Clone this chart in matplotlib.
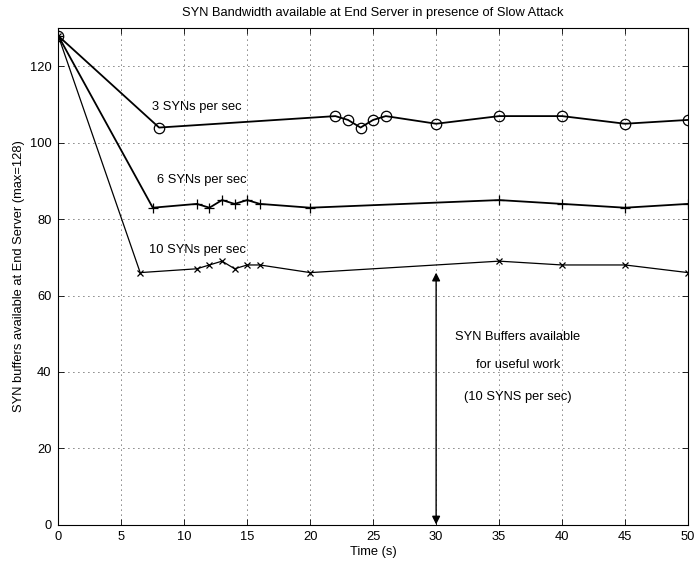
import matplotlib
matplotlib.use("Agg")
import matplotlib.pyplot as plt

plt.rcParams['font.family'] = ['Liberation Sans', 'DejaVu Sans']
plt.rcParams['font.size'] = 9.3

# Time (s) and available SYN buffers for each attack rate
t_3 = [0, 8, 22, 23, 24, 25, 26, 30, 35, 40, 45, 50]
buf_3 = [128, 104, 107, 106, 104, 106, 107, 105, 107, 107, 105, 106]

t_6 = [0, 7.5, 11, 12, 13, 14, 15, 16, 20, 35, 40, 45, 50]
buf_6 = [128, 83, 84, 83, 85, 84, 85, 84, 83, 85, 84, 83, 84]

t_10 = [0, 6.5, 11, 12, 13, 14, 15, 16, 20, 35, 40, 45, 50]
buf_10 = [128, 66, 67, 68, 69, 67, 68, 68, 66, 69, 68, 68, 66]

x_ticks = [0, 5, 10, 15, 20, 25, 30, 35, 40, 45, 50]
y_ticks = [0, 20, 40, 60, 80, 100, 120]

arrow_x = 30
arrow_top = 66

fig = plt.figure(figsize=(6.96, 5.64), dpi=100)
ax = fig.add_axes([0.0838, 0.07, 0.9047, 0.8798])

ax.plot(t_3, buf_3, color='black', lw=1.3, marker='o', ms=7.5,
        mfc='none', mew=0.9)
ax.plot(t_6, buf_6, color='black', lw=1.3, marker='+', ms=7, mew=0.9)
ax.plot(t_10, buf_10, color='black', lw=0.9, marker='x', ms=4.5, mew=0.9)

ax.text(7.4, 109.5, '3 SYNs per sec', ha='left', va='center')
ax.text(7.8, 90.2, '6 SYNs per sec', ha='left', va='center')
ax.text(7.2, 72.0, '10 SYNs per sec', ha='left', va='center')

ax.annotate('', xy=(arrow_x, 0), xytext=(arrow_x, arrow_top),
            arrowprops=dict(arrowstyle='<|-|>', color='black', lw=1.0,
                            mutation_scale=12, shrinkA=0, shrinkB=0))
ax.text(36.5, 49, 'SYN Buffers available', ha='center', va='center')
ax.text(36.5, 41.8, 'for useful work', ha='center', va='center')
ax.text(36.5, 33.5, '(10 SYNS per sec)', ha='center', va='center')

ax.set_xlim(0, 50)
ax.set_ylim(0, 130)
ax.set_xticks(x_ticks)
ax.set_yticks(y_ticks)
ax.tick_params(direction='in', top=True, right=True, length=4, width=0.6,
               labelsize=9.3, pad=5)
ax.grid(True, linestyle=(0, (1, 5)), color='black', lw=0.6)
for s in ax.spines.values():
    s.set_linewidth(0.8)

ax.set_xlabel('Time (s)', labelpad=2)
ax.set_ylabel('SYN buffers available at End Server (max=128)', labelpad=3)
ax.set_title('SYN Bandwidth available at End Server in presence of Slow Attack',
             fontsize=9.3, pad=9)

fig.savefig('out.png', dpi=100)
